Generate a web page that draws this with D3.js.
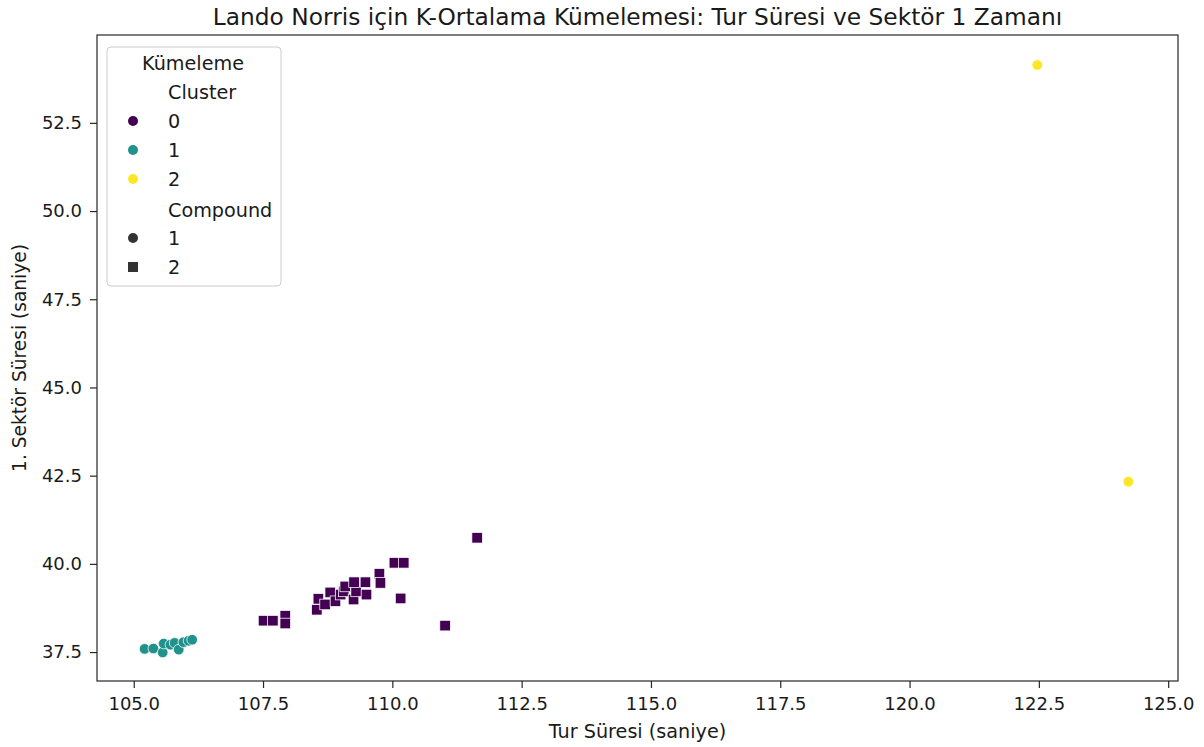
<!DOCTYPE html>
<html>
<head>
<meta charset="utf-8">
<script src="https://cdn.jsdelivr.net/npm/d3@7"></script>
<style>
  body { margin: 0; background: #fff; }
  svg text { font-family: "DejaVu Sans", sans-serif; fill: #1a1a1a; }
</style>
</head>
<body>
<svg id="chart" width="1204" height="747"></svg>
<script>
// ---- data ----
const title = "Lando Norris için K-Ortalama Kümelemesi: Tur Süresi ve Sektör 1 Zamanı";
const xLabel = "Tur Süresi (saniye)";
const yLabel = "1. Sektör Süresi (saniye)";
const xTicks = [105.0, 107.5, 110.0, 112.5, 115.0, 117.5, 120.0, 122.5, 125.0];
const yTicks = [37.5, 40.0, 42.5, 45.0, 47.5, 50.0, 52.5];
const clusterNames = ["0", "1", "2"];
const clusterColors = ["#440154", "#21918c", "#fde725"];
const compoundNames = ["1", "2"];

// cluster 0 (compound 2, squares)
const c0Lap = [107.51, 107.69, 107.93, 107.93, 108.54, 108.57, 108.70, 108.80, 108.90, 109.00, 109.06, 109.09, 109.25, 109.30, 109.26, 109.48, 109.50, 109.75, 109.77, 110.04, 110.22, 110.16, 111.02, 111.64];
const c0S1  = [38.39, 38.39, 38.53, 38.31, 38.70, 39.01, 38.85, 39.19, 38.94, 39.13, 39.22, 39.36, 38.99, 39.22, 39.48, 39.48, 39.13, 39.72, 39.46, 40.03, 40.03, 39.02, 38.25, 40.74];
// cluster 1 (compound 1, circles)
const c1Lap = [105.21, 105.38, 105.56, 105.58, 105.71, 105.79, 105.87, 105.96, 106.06, 106.13];
const c1S1  = [37.59, 37.60, 37.49, 37.74, 37.71, 37.76, 37.57, 37.78, 37.82, 37.85];
// cluster 2 (compound 1, circles)
const c2Lap = [122.47, 124.23];
const c2S1  = [54.14, 42.33];

// ---- layout ----
const svg = d3.select("#chart");
const M = { left: 97, right: 1178, top: 35, bottom: 681 };
const x = d3.scaleLinear().domain([104.29, 125.19]).range([M.left, M.right]);
const y = d3.scaleLinear().domain([36.68, 54.99]).range([M.bottom, M.top]);
const fs = 18;     // tick labels
const fl = 19.2;   // axis labels & legend

const points = [];
c1Lap.forEach((v, i) => points.push({ lap: v, s1: c1S1[i], cluster: 1, compound: 1 }));
c0Lap.forEach((v, i) => points.push({ lap: v, s1: c0S1[i], cluster: 0, compound: 2 }));
c2Lap.forEach((v, i) => points.push({ lap: v, s1: c2S1[i], cluster: 2, compound: 1 }));

// marks
const g = svg.append("g");
points.forEach(p => {
  const col = clusterColors[p.cluster];
  if (p.compound === 1) {
    g.append("circle").attr("cx", x(p.lap)).attr("cy", y(p.s1)).attr("r", 5.3)
      .attr("fill", col).attr("stroke", "#fff").attr("stroke-width", 0.75);
  } else {
    const s = 10.6;
    g.append("rect").attr("x", x(p.lap) - s / 2).attr("y", y(p.s1) - s / 2)
      .attr("width", s).attr("height", s)
      .attr("fill", col).attr("stroke", "#fff").attr("stroke-width", 0.75);
  }
});

// axes
const xAxis = d3.axisBottom(x).tickValues(xTicks).tickFormat(d3.format(".1f")).tickSize(7).tickPadding(9);
const yAxis = d3.axisLeft(y).tickValues(yTicks).tickFormat(d3.format(".1f")).tickSize(7).tickPadding(8);
const gx = svg.append("g").attr("transform", `translate(0,${M.bottom})`).call(xAxis);
const gy = svg.append("g").attr("transform", `translate(${M.left},0)`).call(yAxis);
[gx, gy].forEach(a => {
  a.select(".domain").remove();
  a.selectAll(".tick line").attr("stroke", "#262626").attr("stroke-width", 1.2);
  a.selectAll(".tick text").attr("font-size", fs).attr("font-family", "DejaVu Sans").style("fill", "#1a1a1a");
});

// spines (frame)
svg.append("rect").attr("x", M.left).attr("y", M.top)
  .attr("width", M.right - M.left).attr("height", M.bottom - M.top)
  .attr("fill", "none").attr("stroke", "#262626").attr("stroke-width", 1.2);

// labels
svg.append("text").attr("x", (M.left + M.right) / 2).attr("y", 25)
  .attr("text-anchor", "middle").attr("font-size", 23.3).text(title);
svg.append("text").attr("x", (M.left + M.right) / 2).attr("y", 738)
  .attr("text-anchor", "middle").attr("font-size", fl).text(xLabel);
svg.append("text").attr("transform", `translate(26,${(M.top + M.bottom) / 2}) rotate(-90)`)
  .attr("text-anchor", "middle").attr("font-size", 18.6).text(yLabel);

// legend
const lg = svg.append("g");
lg.append("rect").attr("x", 107).attr("y", 47).attr("width", 174).attr("height", 239)
  .attr("rx", 4).attr("fill", "#fff").attr("fill-opacity", 0.8)
  .attr("stroke", "#cccccc").attr("stroke-width", 1);
lg.append("text").attr("x", 193).attr("y", 70).attr("text-anchor", "middle").attr("font-size", fl).text("Kümeleme");
const rowY = [99, 128, 157, 186, 217, 245, 274];
const mx = 133, tx = 168;
lg.append("text").attr("x", tx).attr("y", rowY[0]).attr("font-size", fl).text("Cluster");
clusterNames.forEach((n, i) => {
  lg.append("circle").attr("cx", mx).attr("cy", rowY[i + 1] - 7).attr("r", 5).attr("fill", clusterColors[i]);
  lg.append("text").attr("x", tx).attr("y", rowY[i + 1]).attr("font-size", fl).text(n);
});
lg.append("text").attr("x", tx).attr("y", rowY[4]).attr("font-size", fl).text("Compound");
compoundNames.forEach((n, i) => {
  const cy = rowY[i + 5] - 7;
  if (i === 0) lg.append("circle").attr("cx", mx).attr("cy", cy).attr("r", 5).attr("fill", "#333333");
  else lg.append("rect").attr("x", mx - 5).attr("y", cy - 5).attr("width", 10).attr("height", 10).attr("fill", "#333333");
  lg.append("text").attr("x", tx).attr("y", rowY[i + 5]).attr("font-size", fl).text(n);
});
</script>
</body>
</html>
